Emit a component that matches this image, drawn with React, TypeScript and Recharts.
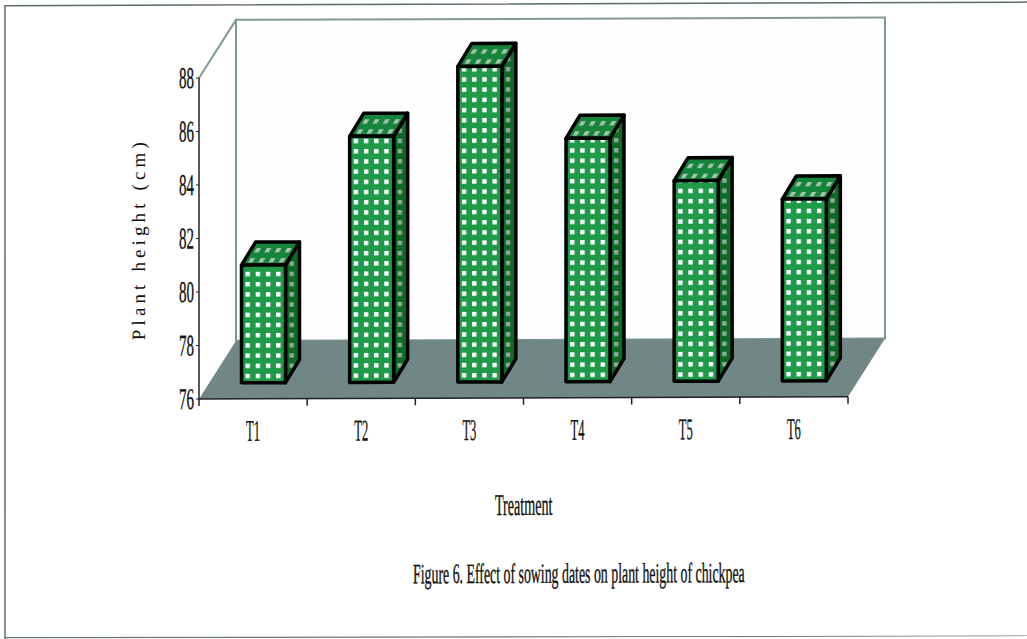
import { BarChart, Bar, XAxis, YAxis } from "recharts";

const treatments = ["T1", "T2", "T3", "T4", "T5", "T6"];
const plantHeight = [80.4, 85.2, 87.8, 85.1, 83.5, 82.8];
const heightTicks = [76, 78, 80, 82, 84, 86, 88];

const data = treatments.map((name, i) => ({ name, height: plantHeight[i] }));

const WIDTH = 1027;
const HEIGHT = 639;
const Y_AXIS_W = 60;
const X_AXIS_H = 60;
const margin = { top: 78, right: 179, bottom: 240 - X_AXIS_H, left: 199 - Y_AXIS_W };
const plotLeft = margin.left + Y_AXIS_W;
const plotRight = WIDTH - margin.right;
const plotBottom = HEIGHT - margin.bottom - X_AXIS_H;
const bandW = (plotRight - plotLeft) / treatments.length;

// oblique depth of the box walls and of each column
const WALL_DX = 37;
const WALL_DY = 58;
const BAR_DX = 14;
const BAR_DY = 23;
const BAR_SHIFT_X = 10.5;
const BAR_SHIFT_Y = 16;
const DOT = 4.4;

const WALL_LINE = "#7f9a96";
const FLOOR = "#708785";
const FONT = "'Liberation Serif', serif";

function Box() {
  const l = plotLeft;
  const r = plotRight;
  const t = margin.top;
  const b = plotBottom;
  return (
    <g>
      {/* page rule around the figure */}
      <path d={`M5 639 L5 5 L${WIDTH} 5`} fill="none" stroke="#5d6b6b" strokeWidth={1.5} />
      <path d={`M5 637 L${WIDTH} 639`} fill="none" stroke="#6a7877" strokeWidth={1.2} />
      <polygon
        points={`${l + WALL_DX},${t - WALL_DY} ${r + WALL_DX},${t - WALL_DY} ${r + WALL_DX},${b - WALL_DY} ${l + WALL_DX},${b - WALL_DY}`}
        fill="#fefefe"
        stroke={WALL_LINE}
        strokeWidth={2}
      />
      <line x1={l} y1={t} x2={l + WALL_DX} y2={t - WALL_DY} stroke={WALL_LINE} strokeWidth={2} />
      <polygon
        points={`${l},${b} ${r},${b} ${r + WALL_DX},${b - WALL_DY} ${l + WALL_DX},${b - WALL_DY}`}
        fill={FLOOR}
      />
    </g>
  );
}

function Column3D(props: any) {
  const { x, y, width, height, index } = props;
  const fx = x + BAR_SHIFT_X;
  const top = y - BAR_SHIFT_Y;
  const bottom = y + height - BAR_SHIFT_Y;
  const right = fx + width;
  return (
    <g stroke="#000" strokeWidth={3.5} strokeLinejoin="round">
      <defs>
        <pattern id={`front-${index}`} patternUnits="userSpaceOnUse" x={fx + 4} y={bottom - 9} width={10.2} height={10.2}>
          <rect width={10.2} height={10.2} fill="#1e9a49" stroke="none" />
          <rect width={DOT} height={DOT} fill="#fff" stroke="none" />
        </pattern>
        <pattern id={`side-${index}`} patternUnits="userSpaceOnUse" x={right + 4} y={bottom - 9} width={14} height={10.2}>
          <rect width={14} height={10.2} fill="#0c6a24" stroke="none" />
          <rect width={DOT} height={DOT} fill="#8fa997" stroke="none" />
        </pattern>
        <pattern
          id={`top-${index}`}
          patternUnits="userSpaceOnUse"
          patternTransform={`translate(${fx} ${top}) skewX(-31)`}
          x={5}
          y={-7}
          width={10.2}
          height={10}
        >
          <rect width={10.2} height={10} fill="#16853c" stroke="none" />
          <rect width={DOT} height={DOT} fill="#a9c2ae" stroke="none" />
        </pattern>
      </defs>
      <polygon
        points={`${right},${top} ${right + BAR_DX},${top - BAR_DY} ${right + BAR_DX},${bottom - BAR_DY} ${right},${bottom}`}
        fill={`url(#side-${index})`}
      />
      <polygon
        points={`${fx},${top} ${fx + BAR_DX},${top - BAR_DY} ${right + BAR_DX},${top - BAR_DY} ${right},${top}`}
        fill={`url(#top-${index})`}
      />
      <rect x={fx} y={top} width={width} height={height} fill={`url(#front-${index})`} />
    </g>
  );
}

function HeightTick({ y, payload }: any) {
  return (
    <text
      transform={`translate(${plotLeft - 20} ${y + 10}) scale(0.5 1)`}
      fontFamily={FONT}
      fontSize={30}
      fill="#111"
      stroke="#111"
      strokeWidth={0.4}
    >
      {payload.value}
    </text>
  );
}

// ticks sit on the category boundaries, labels in the middle of each band
function TreatmentTick({ x, payload, index }: any) {
  const left = x - bandW / 2;
  return (
    <g>
      <line x1={left} y1={plotBottom} x2={left} y2={plotBottom + 7} stroke="#222" strokeWidth={1.5} />
      {index === treatments.length - 1 && (
        <line x1={left + bandW} y1={plotBottom} x2={left + bandW} y2={plotBottom + 7} stroke="#222" strokeWidth={1.5} />
      )}
      <text
        transform={`translate(${x - 7} 441) scale(0.42 1)`}
        fontFamily={FONT}
        fontSize={30}
        fill="#111"
        stroke="#111"
        strokeWidth={0.3}
      >
        {payload.value}
      </text>
    </g>
  );
}

function Captions() {
  return (
    <g fontFamily={FONT} fill="#111">
      <text transform="translate(145 340) rotate(-90)" fontSize={19} textLength={198} lengthAdjust="spacing">
        Plant height (cm)
      </text>
      <g stroke="#111" strokeWidth={0.4}>
        <text transform="translate(495 516) scale(0.47 1)" fontSize={30}>
          Treatment
        </text>
        <text transform="translate(413 584) scale(0.495 1)" fontSize={28}>
          Figure 6. Effect of sowing dates on plant height of chickpea
        </text>
      </g>
    </g>
  );
}

export default function App() {
  return (
    <div
      style={{
        position: "absolute",
        left: 0,
        top: 0,
        width: WIDTH,
        height: HEIGHT,
        background: "#fff",
        overflow: "hidden",
      }}
    >
      <div style={{ transform: "skewY(-0.2deg)", transformOrigin: "199px 399px" }}>
        <BarChart width={WIDTH} height={HEIGHT} data={data} margin={margin} barSize={44}>
          <Box />
          <XAxis
            dataKey="name"
            height={X_AXIS_H}
            axisLine={{ stroke: "#222", strokeWidth: 1.5 }}
            tickLine={false}
            tick={<TreatmentTick />}
            interval={0}
          />
          <YAxis
            width={Y_AXIS_W}
            domain={[76, 88]}
            ticks={heightTicks}
            interval={0}
            axisLine={{ stroke: "#222", strokeWidth: 1.5 }}
            tickLine={{ stroke: "#222", strokeWidth: 1.2 }}
            tickSize={3}
            tick={<HeightTick />}
          />
          <Bar dataKey="height" shape={<Column3D />} isAnimationActive={false} />
          <Captions />
        </BarChart>
      </div>
    </div>
  );
}
